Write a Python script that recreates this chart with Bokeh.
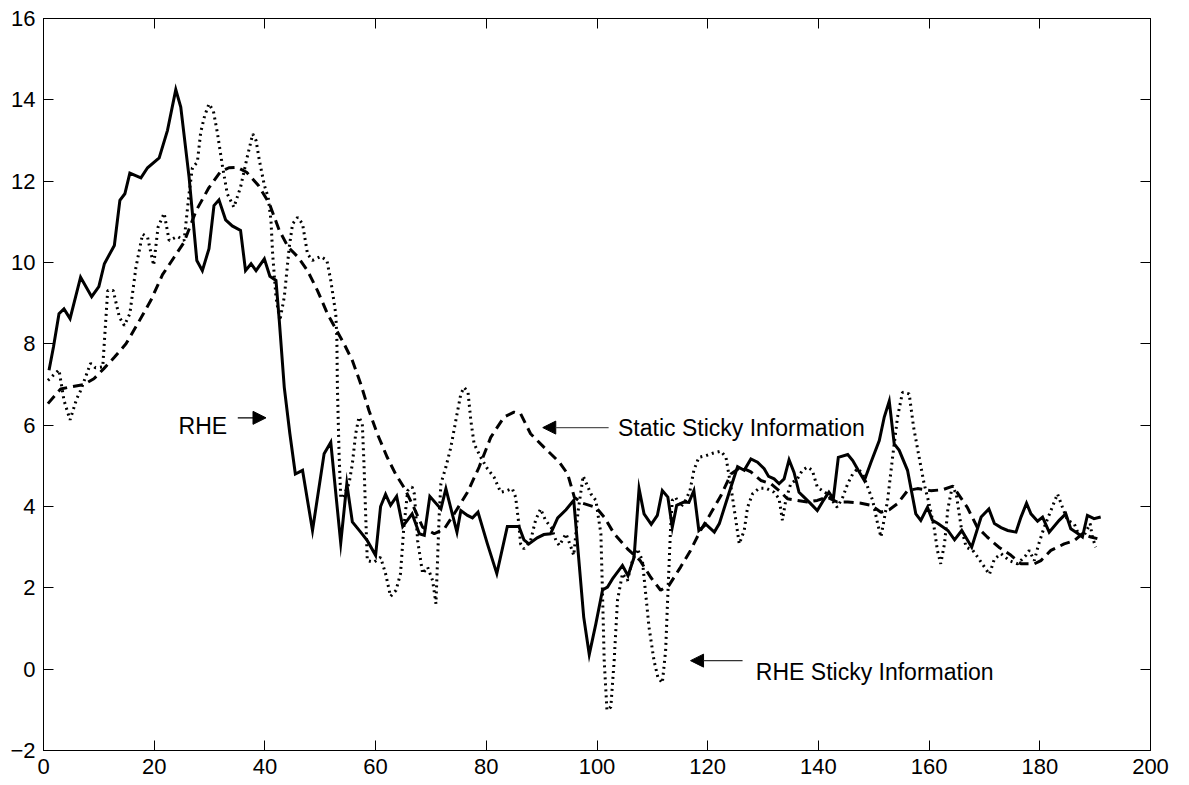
from bokeh.plotting import figure
from bokeh.models import (Range1d, LinearAxis, FixedTicker, Arrow, NormalHead, Label,
                          CustomJSTickFormatter)
from bokeh.embed import file_html
from bokeh.resources import INLINE

# RHE (solid)
rhe_x = [1.0, 1.8, 2.8, 3.7, 4.8, 6.7, 8.7, 10.0, 11.0, 12.8, 13.8, 14.7, 15.6, 17.6, 18.8,
         20.9, 22.4, 23.9, 24.8, 26.3, 27.7, 28.7, 29.9, 30.8, 31.7, 32.9, 34.1, 35.6, 36.5,
         37.5, 38.4, 39.9, 40.9, 42.0, 42.6, 43.5, 44.5, 45.5, 46.8, 47.7, 48.6, 50.7, 51.9,
         53.7, 54.8, 55.8, 57.3, 58.5, 60.0, 60.9, 61.8, 62.7, 63.8, 64.9, 66.6, 67.9, 68.8,
         69.8, 71.8, 72.7, 73.7, 74.7, 75.4, 76.6, 77.5, 78.5, 80.2, 81.9, 83.8, 85.9, 86.8,
         87.7, 89.2, 90.4, 91.6, 92.9, 94.4, 95.8, 97.6, 98.6, 99.8, 101.0, 101.9, 102.8,
         104.6, 105.6, 106.7, 107.6, 108.5, 109.8, 110.9, 111.8, 112.8, 113.6, 114.4, 115.7,
         116.6, 117.5, 118.4, 119.7, 121.2, 122.1, 124.2, 125.4, 126.6, 127.8, 129.0, 130.2,
         131.0, 132.0, 132.9, 133.8, 134.7, 135.6, 136.5, 137.4, 138.6, 139.8, 141.0, 141.9,
         142.7, 143.6, 145.3, 146.2, 147.2, 148.3, 149.5, 151.0, 151.9, 152.8, 153.7, 154.6,
         156.1, 157.6, 158.5, 159.7, 160.6, 161.6, 163.4, 164.6, 165.9, 167.7, 169.4, 170.8,
         171.8, 173.0, 174.2, 175.7, 176.6, 177.6, 178.4, 179.6, 180.5, 181.7, 183.5, 184.7,
         185.6, 186.8, 187.7, 188.6, 189.8, 191.0]
rhe_y = [7.35, 7.92, 8.74, 8.86, 8.62, 9.64, 9.16, 9.41, 9.97, 10.42, 11.53, 11.69, 12.20, 12.08,
         12.33, 12.57, 13.25, 14.25, 13.82, 12.10, 10.05, 9.80, 10.34, 11.40, 11.54, 11.05,
         10.90, 10.79, 9.80, 9.97, 9.80, 10.09, 9.66, 9.56, 8.57, 6.93, 5.80, 4.80, 4.89, 4.15,
         3.41, 5.30, 5.58, 3.10, 4.56, 3.62, 3.37, 3.16, 2.80, 4.00, 4.30, 4.03, 4.25, 3.51,
         3.82, 3.33, 3.29, 4.25, 3.94, 4.44, 3.90, 3.37, 3.90, 3.78, 3.72, 3.86, 3.08, 2.35,
         3.51, 3.51, 3.18, 3.08, 3.23, 3.31, 3.33, 3.72, 3.92, 4.15, 1.28, 0.36, 1.12, 1.95,
         2.02, 2.22, 2.55, 2.30, 2.75, 4.44, 3.82, 3.56, 3.78, 4.39, 4.23, 3.49, 4.03, 4.11,
         4.10, 4.39, 3.41, 3.56, 3.37, 3.58, 4.48, 4.98, 4.89, 5.17, 5.09, 4.93, 4.74, 4.68,
         4.56, 4.68, 5.15, 4.84, 4.35, 4.23, 4.07, 3.90, 4.17, 4.35, 4.19, 5.21, 5.28, 5.13,
         4.89, 4.64, 5.09, 5.62, 6.20, 6.59, 5.54, 5.38, 4.89, 3.82, 3.66, 3.98, 3.66, 3.58,
         3.41, 3.18, 3.41, 3.00, 3.74, 3.94, 3.58, 3.48, 3.41, 3.37, 3.74, 4.08, 3.82, 3.64,
         3.74, 3.37, 3.66, 3.82, 3.45, 3.34, 3.25, 3.78, 3.70, 3.74]

# RHE Sticky Information (dotted)
rsi_x = [0.8, 2.8, 3.7, 4.8, 6.0, 6.7, 8.5, 9.4, 10.7, 11.6, 12.6, 13.7, 14.6, 15.6, 16.7,
         17.9, 18.8, 19.9, 20.7, 21.8, 22.7, 24.2, 25.4, 26.3, 26.9, 27.8, 28.4, 29.1, 29.9,
         30.7, 31.4, 32.3, 33.2, 34.4, 35.6, 36.8, 37.8, 38.4, 39.0, 39.9, 40.6, 41.1, 41.4,
         42.0, 42.7, 43.5, 44.4, 45.0, 45.9, 46.8, 47.7, 48.6, 50.1, 51.2, 51.9, 52.8, 53.0,
         53.1, 53.4, 53.7, 54.0, 55.2, 55.8, 56.4, 57.0, 57.6, 57.9, 58.2, 58.5, 59.7, 60.9,
         61.8, 62.7, 63.7, 64.5, 65.1, 65.8, 66.6, 67.0, 67.6, 68.5, 69.4, 70.3, 70.9, 71.5,
         71.8, 72.7, 73.6, 74.5, 75.4, 76.0, 76.7, 77.2, 77.8, 79.0, 80.2, 81.4, 82.6, 83.5,
         84.7, 85.3, 85.8, 86.2, 86.8, 88.0, 88.9, 89.8, 90.7, 91.7, 92.6, 93.2, 94.4, 95.3,
         95.8, 96.6, 97.5, 98.9, 99.8, 100.7, 101.0, 101.3, 101.8, 102.5, 103.1, 103.7, 104.6,
         105.5, 106.4, 107.3, 108.2, 108.8, 109.4, 110.3, 111.0, 111.8, 112.4, 112.8, 113.3,
         113.6, 114.2, 115.1, 116.0, 116.8, 117.5, 118.4, 119.7, 120.9, 122.4, 123.3, 124.2,
         125.0, 125.7, 126.6, 127.2, 128.1, 129.3, 130.5, 132.0, 132.9, 133.5, 134.1, 135.0,
         136.2, 137.1, 138.0, 138.9, 139.8, 140.7, 141.6, 142.5, 143.4, 144.4, 145.3, 146.2,
         147.1, 148.0, 148.9, 149.8, 150.7, 151.3, 152.5, 153.4, 154.3, 155.2, 156.4, 157.2,
         158.2, 159.1, 160.0, 160.9, 161.5, 162.1, 162.8, 163.4, 164.2, 164.9, 165.8, 166.7,
         167.9, 168.8, 170.0, 170.9, 171.8, 173.0, 174.5, 176.0, 177.5, 178.1, 179.0, 179.9,
         180.8, 182.0, 183.2, 184.1, 185.0, 186.2, 187.1, 188.0, 189.1, 189.5, 190.1]
rsi_y = [7.10, 7.36, 6.61, 6.13, 6.65, 6.85, 7.52, 7.41, 7.43, 9.31, 9.31, 8.66, 8.45, 8.74, 9.88,
         10.70, 10.62, 9.93, 10.87, 11.21, 10.54, 10.64, 10.54, 11.69, 12.33, 12.47, 13.20,
         13.60, 13.90, 13.72, 13.20, 12.40, 11.69, 11.36, 11.85, 12.59, 13.16, 13.00, 12.51,
         11.90, 11.60, 11.03, 10.21, 9.15, 8.57, 9.15, 10.38, 10.95, 11.11, 10.95, 10.21,
         10.05, 10.15, 10.05, 9.56, 8.74, 8.16, 6.93, 5.30, 4.23, 4.20, 4.56, 5.05, 5.79, 6.20,
         6.03, 5.05, 3.82, 2.67, 2.63, 2.75, 2.35, 1.79, 1.94, 2.35, 3.49, 4.39, 4.48, 4.31,
         3.16, 2.35, 2.51, 2.18, 1.61, 3.82, 4.56, 4.97, 5.46, 6.12, 6.77, 6.93, 6.81, 6.12,
         5.54, 5.21, 4.93, 4.72, 4.35, 4.38, 4.44, 4.23, 3.66, 3.08, 2.96, 3.16, 3.66, 3.94,
         3.66, 3.49, 3.16, 3.04, 3.33, 3.00, 2.80, 3.90, 4.75, 4.31, 4.15, 3.33, 1.85, 0.21,
         -1.01, -0.93, 0.21, 1.69, 2.35, 2.18, 2.67, 2.96, 2.67, 1.85, 1.03, 0.21, -0.20,
         -0.34, 0.46, 1.85, 3.49, 4.15, 4.23, 3.98, 4.15, 4.39, 4.89, 5.21, 5.25, 5.31, 5.36,
         5.21, 4.48, 3.74, 3.08, 3.41, 3.98, 4.31, 4.45, 4.45, 4.35, 4.19, 3.66, 4.15, 4.56,
         4.68, 4.89, 4.97, 4.89, 4.48, 4.39, 4.31, 4.15, 3.98, 4.23, 4.56, 4.80, 4.93, 4.80,
         4.48, 4.15, 3.58, 3.25, 4.15, 5.21, 6.20, 6.81, 6.77, 5.95, 5.21, 4.56, 4.07, 3.49,
         2.92, 2.59, 3.10, 3.95, 4.50, 4.31, 3.49, 3.00, 2.92, 2.75, 2.51, 2.33, 2.71, 2.84,
         2.67, 2.59, 2.80, 2.92, 2.67, 3.12, 3.49, 3.90, 4.31, 3.98, 3.66, 3.58, 3.29, 3.29,
         3.58, 3.25, 3.00]

# Static Sticky Information (dashed)
ssi_x = [0.8, 3.1, 5.2, 7.3, 9.1, 10.9, 12.8, 14.9, 17.0, 19.4, 21.5, 23.6, 25.4, 27.6, 29.8,
         31.9, 33.5, 35.0, 36.7, 38.8, 40.8, 42.6, 44.2, 46.0, 47.7, 49.5, 51.3, 52.8, 54.3,
         55.8, 57.3, 58.8, 60.3, 62.1, 63.6, 65.3, 67.0, 68.5, 70.6, 72.4, 74.2, 76.6, 78.7,
         80.8, 83.2, 85.0, 86.2, 88.0, 90.4, 93.2, 94.7, 95.9, 97.2, 99.8, 101.3, 103.1,
         105.5, 107.8, 109.7, 111.5, 113.0, 115.1, 116.9, 118.7, 120.5, 122.4, 124.2, 126.0,
         127.8, 129.6, 131.4, 132.9, 134.4, 136.2, 138.0, 139.8, 141.6, 143.4, 145.3, 147.7,
         149.5, 151.3, 152.8, 154.3, 156.1, 157.9, 160.3, 162.4, 164.3, 166.9, 168.7, 170.5,
         172.6, 174.8, 176.6, 179.0, 180.2, 182.0, 184.4, 186.2, 187.7, 189.2, 190.4]
ssi_y = [6.53, 6.89, 6.95, 7.00, 7.14, 7.39, 7.67, 8.00, 8.49, 9.07, 9.70, 10.13, 10.50, 11.28,
         11.82, 12.22, 12.33, 12.34, 12.22, 11.90, 11.45, 10.79, 10.38, 10.13, 9.80, 9.31,
         8.74, 8.37, 8.00, 7.59, 7.02, 6.36, 5.79, 5.21, 4.80, 4.43, 3.95, 3.49, 3.33, 3.45,
         3.82, 4.35, 4.97, 5.70, 6.20, 6.32, 6.28, 5.79, 5.46, 5.09, 4.80, 4.23, 4.09, 3.98,
         3.74, 3.33, 2.96, 2.67, 2.26, 1.94, 2.06, 2.51, 2.92, 3.41, 3.82, 4.27, 4.80, 4.97,
         4.85, 4.64, 4.56, 4.39, 4.19, 4.15, 4.11, 4.15, 4.23, 4.11, 4.11, 4.08, 4.03, 3.86,
         3.92, 4.07, 4.39, 4.44, 4.39, 4.41, 4.50, 3.98, 3.49, 3.25, 3.00, 2.80, 2.59, 2.59,
         2.67, 2.92, 3.08, 3.16, 3.33, 3.25, 3.21]

x_ticks = [0, 20, 40, 60, 80, 100, 120, 140, 160, 180, 200]
y_ticks = [-2, 0, 2, 4, 6, 8, 10, 12, 14, 16]

FONT = "Liberation Sans"
TICK_SIZE = "22px"
NOTE_SIZE = "23px"

p = figure(width=1189, height=785, output_backend="svg", toolbar_location=None,
           x_range=Range1d(0, 200), y_range=Range1d(-2, 16),
           x_axis_location=None, y_axis_location=None,
           min_border_left=43, min_border_right=39, min_border_top=18, min_border_bottom=35)
p.xgrid.visible = False
p.ygrid.visible = False
p.outline_line_color = "black"
p.outline_line_width = 1
p.background_fill_color = "white"
p.border_fill_color = "white"


def make_axis(ticks, labels=True):
    ax = LinearAxis(ticker=FixedTicker(ticks=ticks))
    ax.major_tick_in = 10
    ax.major_tick_out = 0
    ax.minor_tick_line_color = None
    ax.axis_line_color = "black"
    ax.major_tick_line_color = "black"
    ax.major_label_text_font = FONT
    ax.major_label_text_color = "black"
    ax.major_label_text_font_size = TICK_SIZE
    ax.major_label_standoff = 8
    if not labels:
        # tick marks only on the top and right edges of the box
        ax.formatter = CustomJSTickFormatter(code="return ''")
        ax.major_label_standoff = 0
    return ax


p.add_layout(make_axis(x_ticks), "below")
p.add_layout(make_axis(y_ticks), "left")
p.add_layout(make_axis(x_ticks, labels=False), "above")
p.add_layout(make_axis(y_ticks, labels=False), "right")

p.line(ssi_x, ssi_y, line_color="black", line_width=3, line_dash="10 6")
p.line(rsi_x, rsi_y, line_color="black", line_width=3, line_dash="2 4")
p.line(rhe_x, rhe_y, line_color="black", line_width=3, line_join="miter")


# annotations with arrows
def add_arrow(x0, x1, y, color):
    p.add_layout(Arrow(end=NormalHead(size=13, fill_color="black", line_color="black"),
                       x_start=x0, y_start=y, x_end=x1, y_end=y,
                       line_color=color, line_width=1.2))


def add_label(x, y, text):
    p.add_layout(Label(x=x, y=y, text=text, text_font=FONT, text_font_size=NOTE_SIZE,
                       text_color="black", text_baseline="alphabetic"))


add_arrow(35.1, 40.2, 6.18, "black")
add_label(24.4, 5.97, "RHE")

add_arrow(102.1, 90.2, 5.94, "#555555")
add_label(103.8, 5.94, "Static Sticky Information")

add_arrow(126.3, 116.9, 0.21, "#333333")
add_label(128.7, -0.06, "RHE Sticky Information")

open("out.html", "w").write(file_html(p, INLINE))
